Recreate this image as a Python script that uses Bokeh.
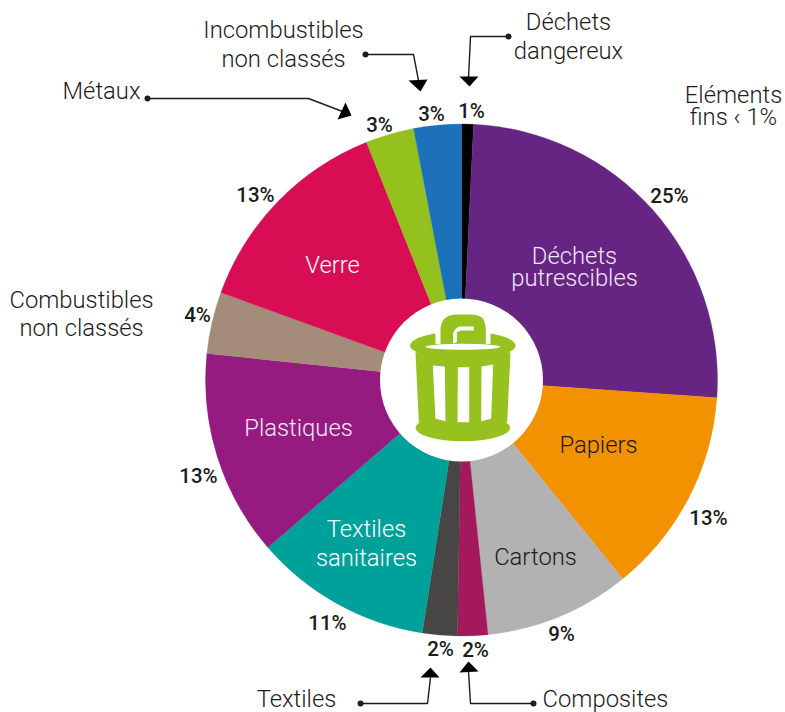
from bokeh.plotting import figure
from bokeh.embed import file_html
from bokeh.resources import INLINE
from bokeh.core.properties import value
from bokeh.models import Range1d
import numpy as np

# Clockwise from 12 o'clock; shares
categories = ["Déchets dangereux", "Déchets putrescibles", "Papiers", "Cartons", "Composites",
              "Textiles", "Textiles sanitaires", "Plastiques", "Combustibles non classés",
              "Verre", "Métaux", "Incombustibles non classés"]
shares = [0.75, 25.35, 13.05, 9.2, 1.9, 2.2, 11.2, 13.0, 3.9, 13.4, 3.05, 3.0]
colors = ["#000000", "#662483", "#f39200", "#b2b2b2", "#a3195b", "#474644",
          "#00a19a", "#951b81", "#a58b7a", "#d90d54", "#95c11f", "#1d71b8"]

pct_labels = ["1%", "25%", "13%", "9%", "2%", "2%", "11%", "13%", "4%", "13%", "3%", "3%"]
pct_x = [471, 669, 708, 561, 475, 440, 327, 198, 197, 255, 379, 431]
pct_y = [110, 195, 517, 633, 649, 648, 622, 475, 314, 194, 124, 113]

text_labels = ["Déchets", "putrescibles", "Papiers", "Cartons", "Textiles", "sanitaires", "Plastiques", "Verre",
               "Combustibles", "non classés", "Métaux", "Incombustibles", "non classés", "Déchets", "dangereux",
               "Eléments", "fins ‹ 1%", "Textiles", "Composites"]
text_x = [574, 574, 598, 535, 366, 366, 298, 332, 81, 81, 101, 283, 283, 568, 568, 733, 733, 296, 605]
text_y = [255, 277, 444, 556, 528, 557, 427, 264, 299, 327, 90, 29, 58, 21, 50, 94, 116, 698, 698]
text_cols = ["#f0e6f4", "#f0e6f4", "#1d1d1b", "#1d1d1b", "#ffffff", "#ffffff", "#f5e6f2", "#ffffff",
             "#1d1d1b", "#1d1d1b", "#1d1d1b", "#1d1d1b", "#1d1d1b", "#1d1d1b", "#1d1d1b", "#1d1d1b", "#1d1d1b",
             "#1d1d1b", "#1d1d1b"]

H = 712
CX, CY, R, R_IN = 461, 379.5, 256, 81.5
FONT = "Roboto Light"
BOLD = "Roboto Medium"

def Y(v):
    return H - np.asarray(v, dtype=float)

p = figure(width=785, height=712, output_backend="svg", toolbar_location=None,
           x_range=Range1d(0, 785), y_range=Range1d(0, 712), min_border=0,
           outline_line_color=None, background_fill_color="white")
p.axis.visible = False
p.grid.visible = False

edges = np.cumsum([0] + shares) / sum(shares) * 2 * np.pi
p.wedge(x=CX, y=H - CY, radius=R,
        start_angle=(np.pi / 2 - edges[:-1]).tolist(), end_angle=(np.pi / 2 - edges[1:]).tolist(),
        direction="clock", fill_color=colors, line_color=colors, line_width=0.3)
p.scatter([CX], [H - CY], size=2 * R_IN, marker="circle", fill_color="white", line_color=None)

# Icon, traced in the coordinates of the picture
G = "#97c11f"
def zx(v):
    return [380 + a / 3 for a in v]
def zy(v):
    return (Y([290 + a / 3 for a in v])).tolist()
def poly(xs, ys, c=G):
    p.patch(zx(xs), zy(ys), fill_color=c, line_color=None)
def oval(cx, cy, rx, ry, c=G):
    p.ellipse(zx([cx]), zy([cy]), width=2 * rx / 3, height=2 * ry / 3, fill_color=c, line_color=None)

oval(247, 165, 158, 42)
poly([165, 330, 330, 290, 205, 165], [100, 100, 160, 165, 165, 160], "white")
poly([180, 180, 184, 192, 205, 225, 275, 295, 308, 312, 316, 316, 180],
     [170, 112, 96, 84, 76, 72, 72, 76, 84, 96, 112, 170, 170])
poly([218, 218, 224, 236, 280, 280, 240, 229, 229, 218],
     [160, 128, 116, 108, 108, 120, 120, 125, 155, 160], "white")
oval(247, 169, 113, 9, "white")
poly([105, 390, 380, 115], [185, 185, 395, 395])
oval(247, 412, 142, 40)
poly([157, 193, 195, 165], [225, 228, 392, 385], "white")
poly([232, 266, 266, 231], [230, 230, 395, 395], "white")
poly([303, 338, 332, 302], [228, 222, 385, 392], "white")

# Leader lines: dot, elbow, arrow head
leaders = [
    ([147, 308, 342], [98, 98, 111], [(345, 102), (351, 115), (337, 119)]),
    ([365, 413, 418], [54, 54, 80], [(408, 80), (427, 79), (420, 91)]),
    ([508, 470, 468], [36, 36, 78], [(459, 76), (478, 76), (469, 86)]),
    ([360, 427, 430], [703, 703, 677], [(420, 677), (439, 677), (430, 667)]),
    ([533, 470, 468], [703, 703, 671], [(459, 672), (478, 671), (468, 661)]),
]
for lx, ly, tri in leaders:
    p.line(lx, Y(ly).tolist(), line_color="#1d1d1b", line_width=1.4)
    p.scatter([lx[0]], [H - ly[0]], size=6, marker="circle", fill_color="#1d1d1b", line_color=None)
    p.patch([t[0] for t in tri], [H - t[1] for t in tri], fill_color="#000000", line_color=None)

p.text(x=text_x, y=Y(text_y).tolist(), text=text_labels, text_color=text_cols, text_align="center",
       text_baseline="middle", text_font=value(FONT), text_font_size="23.8px")
p.text(x=pct_x, y=Y(pct_y).tolist(), text=pct_labels, text_color="#1d1d1b", text_align="center",
       text_baseline="middle", text_font=value(BOLD), text_font_size="20.5px")

open("out.html", "w").write(file_html(p, INLINE))
